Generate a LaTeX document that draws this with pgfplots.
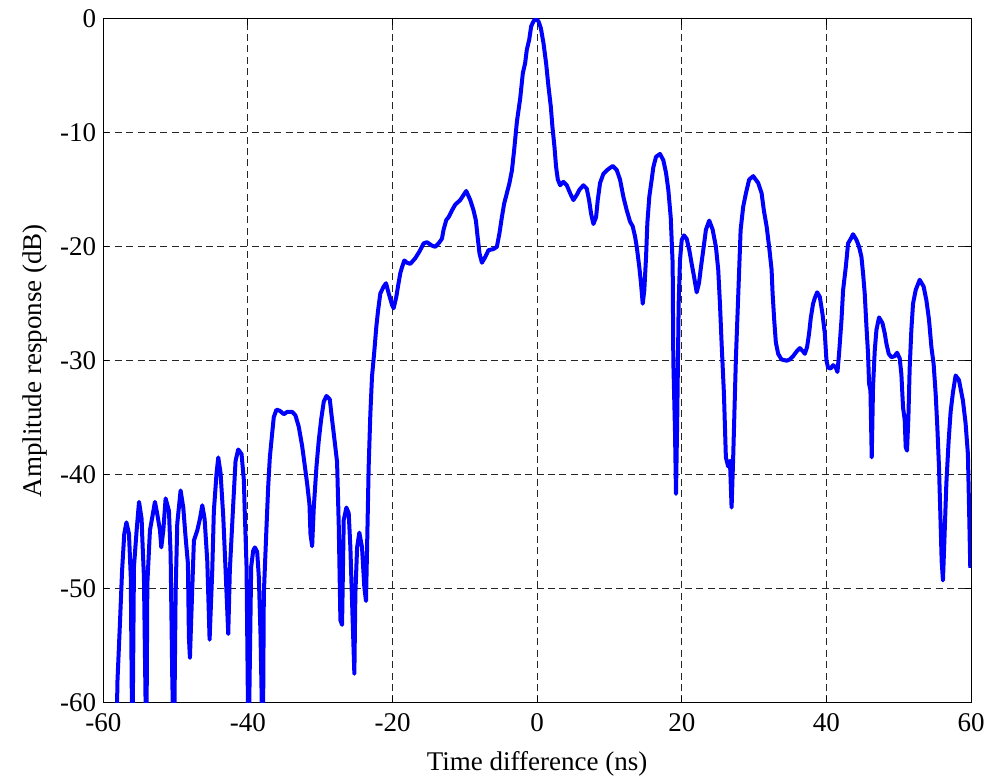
\documentclass[border=0pt]{standalone}
\usepackage{pgfplots}
\pgfplotsset{compat=1.18}
\usepackage{fontspec}
\setmainfont{Liberation Serif}
\begin{document}
\begin{tikzpicture}
\begin{axis}[
  scale only axis,
  width=433.85pt, height=341.65pt,
  xmin=-60, xmax=60, ymin=-60, ymax=0,
  xtick={-60,-40,...,60}, ytick={-60,-50,...,0},
  tick align=inside, xtick pos=both, ytick pos=both,
  major tick length=3pt,
  tick style={black, line width=0.5pt},
  axis line style={black, line width=0.5pt},
  grid=major,
  major grid style={black!85, line width=0.5pt, dash pattern=on 3.5pt off 2.2pt},
  /pgf/number format/assume math mode=true,
  ticklabel style={font=\fontsize{13.5}{16}\selectfont},
  xticklabel shift=2pt,
  label style={font=\fontsize{13.5}{16}\selectfont},
  xlabel={Time difference (ns)},
  ylabel={Amplitude response (dB)},
  xlabel style={at={(axis description cs:0.5,0)}, anchor=base, yshift=-33.9pt},
  ylabel style={at={([xshift=-31pt]axis description cs:0,0.5)}, anchor=base, rotate=0},
]
\addplot[color={rgb,255:red,0;green,0;blue,255}, line width=2pt, line join=round] coordinates {
(-58.15,-65) (-58.06,-58.4) (-57.7,-53.1) (-57.4,-48.4) (-57.1,-45.2) (-56.8,-44.2) (-56.45,-45.2) (-56.2,-49.0) (-55.98,-65)
(-55.76,-48.1) (-55.39,-44.9) (-55.06,-42.4) (-54.70,-43.9) (-54.61,-45.5) (-54.38,-49.0) (-54.05,-65)
(-53.91,-49.6) (-53.55,-44.9) (-53.13,-43.4) (-52.86,-42.4) (-52.53,-43.5) (-52.16,-44.9) (-51.98,-46.4) (-51.70,-44.9) (-51.38,-42.1) (-50.92,-43.2) (-50.69,-47.0) (-50.46,-58.0) (-50.23,-65)
(-50.0,-50.5) (-49.77,-44.3) (-49.31,-41.4) (-48.94,-42.9) (-48.62,-45.5) (-48.3,-47.8) (-48.16,-54.3) (-48.02,-56.1) (-47.83,-52.5) (-47.47,-45.8) (-47.0,-44.9) (-46.64,-43.9) (-46.31,-42.7) (-45.99,-43.9) (-45.62,-47.6) (-45.30,-54.5)
(-44.93,-48.4) (-44.71,-43.2) (-44.34,-39.9) (-44.1,-38.5) (-43.78,-39.9) (-43.41,-43.7) (-43.09,-48.4) (-42.72,-54.0) (-42.5,-48.4) (-42.03,-42.6) (-41.71,-38.8) (-41.34,-37.8) (-40.88,-38.2) (-40.56,-40.5) (-40.45,-43.0) (-40.19,-48.1) (-39.92,-65)
(-39.55,-48.1) (-39.27,-46.7) (-39.04,-46.4) (-38.72,-46.8) (-38.49,-49.0) (-38.26,-54.0) (-37.94,-65)
(-37.80,-50.5) (-37.43,-44.6) (-37.2,-41.1) (-36.97,-38.5) (-36.65,-36.4) (-36.42,-34.95) (-36.05,-34.3) (-35.59,-34.4) (-35.04,-34.7) (-34.57,-34.5) (-33.88,-34.5) (-33.43,-34.8) (-32.97,-35.8) (-32.5,-37.5) (-32.14,-39.2) (-31.81,-40.8) (-31.49,-42.6) (-31.35,-45.2) (-31.12,-46.3)
(-30.89,-42.9) (-30.52,-39.3) (-30.2,-37.0) (-29.88,-35.2) (-29.51,-33.6) (-29.14,-33.1) (-28.68,-33.4) (-28.45,-34.7) (-28.13,-36.4) (-27.67,-38.9) (-27.44,-44.4) (-27.21,-52.8) (-26.98,-53.2)
(-26.75,-44.0) (-26.38,-42.9) (-26.06,-43.4) (-25.83,-46.4) (-25.6,-51.1) (-25.28,-57.5) (-25.14,-50.5) (-24.9,-46.4) (-24.59,-45.1) (-24.22,-46.4) (-23.9,-49.9) (-23.67,-51.1) (-23.52,-46.4)
(-23.3,-39.3) (-23.07,-34.7) (-22.84,-31.4) (-22.51,-29.1) (-22.24,-27.0) (-22.0,-25.6) (-21.69,-24.1) (-21.23,-23.5) (-20.9,-23.2) (-20.53,-24.1) (-20.07,-25.1) (-19.85,-25.4) (-19.48,-24.4) (-19.25,-23.5) (-18.92,-22.3) (-18.69,-21.8) (-18.37,-21.2) (-18.0,-21.4) (-17.54,-21.5) (-16.85,-21.0) (-16.26,-20.4) (-15.7,-19.7) (-15.24,-19.6) (-14.55,-19.9) (-14.09,-20.0) (-13.63,-19.7) (-13.17,-19.3) (-12.94,-18.5) (-12.57,-17.65) (-12.25,-17.4) (-11.78,-16.8) (-11.33,-16.3) (-10.64,-15.9) (-9.81,-15.1) (-9.25,-15.9) (-8.8,-16.8) (-8.47,-17.7) (-8.24,-19.1) (-7.97,-20.6) (-7.64,-21.4) (-7.18,-20.9) (-6.73,-20.3) (-6.04,-20.2) (-5.57,-20.0) (-5.21,-18.8) (-4.88,-17.4) (-4.56,-16.2) (-4.19,-15.3) (-3.83,-14.4) (-3.49,-13.3) (-3.18,-11.5) (-2.8,-9.0)
(-2.35,-7.0) (-1.98,-4.75) (-1.66,-3.87) (-1.43,-2.7) (-1.1,-1.82) (-0.83,-0.65) (-0.51,-0.2) (-0.18,0) (0.18,-0.2) (0.51,-0.8) (0.87,-2.1) (1.24,-3.9) (1.56,-5.9) (1.89,-7.7) (2.11,-9.45) (2.39,-11.2) (2.62,-13.0) (2.86,-14.1) (3.18,-14.6) (3.63,-14.3) (4.10,-14.6) (4.56,-15.3) (5.01,-15.9) (5.48,-15.45) (5.84,-15.0) (6.40,-14.6) (6.86,-14.9) (7.18,-15.9) (7.46,-17.1) (7.78,-18.0) (8.15,-17.4) (8.38,-15.9) (8.70,-14.4) (9.16,-13.6) (9.71,-13.25) (10.45,-12.9) (11.0,-13.25) (11.46,-14.1) (11.92,-15.6) (12.39,-16.8) (12.85,-17.8) (13.21,-18.2) (13.54,-19.1) (13.77,-20.0) (14.13,-21.8) (14.36,-23.2) (14.6,-25.0) (14.82,-23.8) (15.06,-20.9) (15.24,-17.9) (15.51,-15.6) (15.84,-14.1) (16.07,-13.0) (16.44,-12.1) (16.99,-11.85) (17.45,-12.4) (17.82,-13.5) (18.14,-15.0) (18.47,-17.4) (18.74,-21.5) (18.83,-30.0) (19.06,-36.1) (19.2,-41.7) (19.38,-34.7) (19.57,-25.0) (19.75,-21.2) (19.99,-19.4) (20.3,-19.0) (20.68,-19.3) (21.04,-20.3) (21.37,-21.5) (21.69,-22.6) (22.06,-24.0) (22.38,-23.2) (22.65,-21.8) (22.97,-20.3) (23.34,-18.5) (23.8,-17.7) (24.27,-18.5) (24.72,-20.0) (25.04,-22.0) (25.28,-25.0) (25.51,-28.5) (25.83,-32.9) (26.1,-38.5) (26.42,-39.3) (26.66,-38.8) (26.89,-42.9) (27.11,-38.5) (27.49,-29.7) (27.80,-24.4) (28.14,-18.5) (28.49,-16.5) (28.87,-15.3) (29.32,-14.1) (29.88,-13.8) (30.57,-14.4) (31.04,-15.3) (31.35,-16.8) (31.73,-18.2) (32.08,-20.0) (32.42,-22.0) (32.56,-24.1) (32.78,-26.4) (33.01,-28.4) (33.33,-29.4) (33.80,-29.9) (34.49,-30.0) (34.94,-29.9) (35.4,-29.6) (35.87,-29.2) (36.33,-28.9) (36.78,-29.2) (37.02,-29.4) (37.33,-28.8) (37.61,-27.6) (37.85,-26.2) (38.16,-25.0) (38.4,-24.5) (38.72,-24.0) (39.09,-24.4) (39.46,-25.9) (39.78,-27.6) (40.01,-30.0) (40.23,-30.6) (40.57,-30.7) (40.93,-30.4) (41.30,-30.6) (41.53,-31.0) (41.75,-29.4) (42.09,-26.4) (42.31,-23.8) (42.68,-21.8) (43.0,-19.7) (43.37,-19.3) (43.69,-18.9) (44.16,-19.4) (44.52,-20.0) (44.85,-20.9) (45.08,-22.4) (45.30,-24.1) (45.54,-27.0) (45.76,-29.4) (45.90,-32.0) (46.09,-32.6) (46.27,-38.5) (46.45,-32.3) (46.69,-29.1) (46.92,-27.3) (47.28,-26.2) (47.75,-26.7) (48.07,-27.6) (48.30,-28.5) (48.62,-29.4) (48.99,-29.7) (49.45,-29.6) (49.77,-29.3) (50.14,-29.8) (50.37,-31.2) (50.60,-34.1) (50.83,-35.2) (50.97,-37.6) (51.15,-37.9) (51.34,-35.0) (51.52,-30.6) (51.75,-27.3) (51.98,-25.0) (52.35,-23.8) (52.90,-22.9) (53.45,-23.5) (53.83,-24.7) (54.19,-26.4) (54.52,-28.8) (54.83,-30.3) (55.11,-32.9) (55.34,-35.8) (55.57,-39.3) (55.76,-43.5) (55.94,-47.6) (56.12,-49.3) (56.35,-45.2) (56.59,-40.8) (56.91,-37.0) (57.18,-34.5) (57.50,-32.8) (57.87,-31.3) (58.33,-31.7) (58.88,-33.5) (59.25,-35.5) (59.57,-38.2) (59.71,-42.3) (59.9,-48.2)
};
\end{axis}
\pgfresetboundingbox
\path[use as bounding box] ([shift={(-51.65pt,-36.85pt)}]current axis.south west) rectangle ([shift={(9pt,9.5pt)}]current axis.north east);
\end{tikzpicture}
\end{document}
